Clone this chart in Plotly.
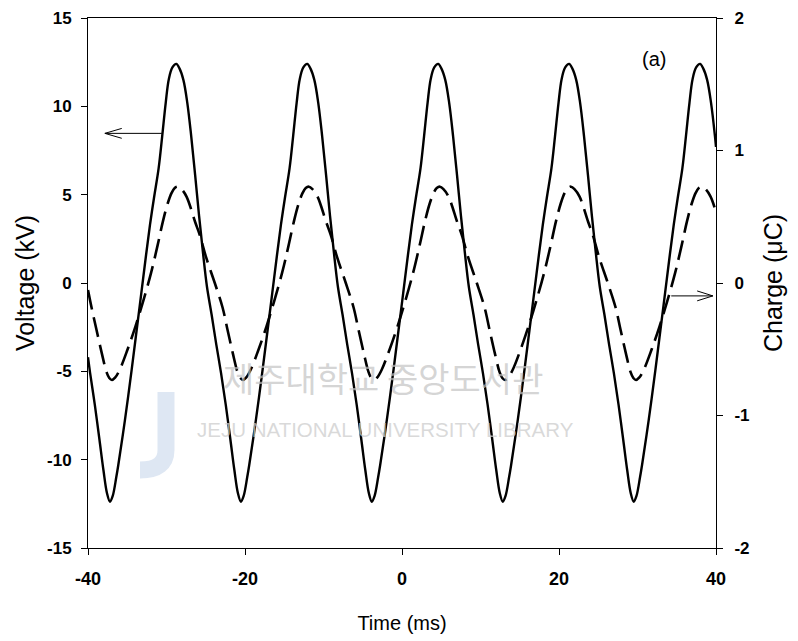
import plotly.graph_objects as go

# ---- Voltage (solid): time in ms, value in kV ----
volt_t = [
    -40.0, -39.73, -39.13, -38.53, -38.03, -37.58, -37.2,
    -36.85, -36.4, -36.14, -35.29, -34.44, -33.8, -33.2, -32.6, -32.1, -31.6, -31.0, -30.55, -30.1, -29.7, -29.25, -28.75,
    -28.35, -27.85, -27.35, -26.85, -26.35, -25.85, -25.35, -24.85, -24.25, -23.65, -23.05, -22.45, -21.85, -21.35, -20.9, -20.52,
    -20.17, -19.72, -19.46, -18.61, -17.76, -17.12, -16.52, -15.92, -15.42, -14.92, -14.32, -13.87, -13.42, -13.02, -12.57, -12.07,
    -11.67, -11.17, -10.67, -10.17, -9.67, -9.17, -8.67, -8.17, -7.57, -6.97, -6.37, -5.77, -5.17, -4.67, -4.22, -3.84,
    -3.49, -3.04, -2.78, -1.93, -1.08, -0.44, 0.16, 0.76, 1.26, 1.76, 2.36, 2.81, 3.26, 3.66, 4.11, 4.61,
    5.01, 5.51, 6.01, 6.51, 7.01, 7.51, 8.01, 8.51, 9.11, 9.71, 10.31, 10.91, 11.51, 12.01, 12.46, 12.84,
    13.19, 13.64, 13.9, 14.75, 15.6, 16.24, 16.84, 17.44, 17.94, 18.44, 19.04, 19.49, 19.94, 20.34, 20.79, 21.29,
    21.69, 22.19, 22.69, 23.19, 23.69, 24.19, 24.69, 25.19, 25.79, 26.39, 26.99, 27.59, 28.19, 28.69, 29.14, 29.52,
    29.87, 30.32, 30.58, 31.43, 32.28, 32.92, 33.52, 34.12, 34.62, 35.12, 35.72, 36.17, 36.62, 37.02, 37.47, 37.97,
    38.37, 38.87, 39.37, 39.87, 40.0,
]
volt_kv = [
    -4.2, -5.1, -6.9, -8.9, -10.6, -11.9, -12.38,
    -12.05, -11.0, -10.3, -7.75, -4.92, -2.66, -0.55, 1.6, 3.3, 4.8, 6.5, 8.3, 10.2, 11.55, 12.2, 12.40,
    12.15, 11.5, 10.2, 8.3, 6.1, 3.8, 1.7, -0.2, -1.8, -3.5, -5.1, -6.9, -8.9, -10.6, -11.9, -12.38,
    -12.05, -11.0, -10.3, -7.75, -4.92, -2.66, -0.55, 1.6, 3.3, 4.8, 6.5, 8.3, 10.2, 11.55, 12.2, 12.40,
    12.15, 11.5, 10.2, 8.3, 6.1, 3.8, 1.7, -0.2, -1.8, -3.5, -5.1, -6.9, -8.9, -10.6, -11.9, -12.38,
    -12.05, -11.0, -10.3, -7.75, -4.92, -2.66, -0.55, 1.6, 3.3, 4.8, 6.5, 8.3, 10.2, 11.55, 12.2, 12.40,
    12.15, 11.5, 10.2, 8.3, 6.1, 3.8, 1.7, -0.2, -1.8, -3.5, -5.1, -6.9, -8.9, -10.6, -11.9, -12.38,
    -12.05, -11.0, -10.3, -7.75, -4.92, -2.66, -0.55, 1.6, 3.3, 4.8, 6.5, 8.3, 10.2, 11.55, 12.2, 12.40,
    12.15, 11.5, 10.2, 8.3, 6.1, 3.8, 1.7, -0.2, -1.8, -3.5, -5.1, -6.9, -8.9, -10.6, -11.9, -12.38,
    -12.05, -11.0, -10.3, -7.75, -4.92, -2.66, -0.55, 1.6, 3.3, 4.8, 6.5, 8.3, 10.2, 11.55, 12.2, 12.40,
    12.15, 11.5, 10.2, 8.3, 7.7,
]

# ---- Charge (dashed): time in ms, value in uC ----
charge_t = [
    -40.0, -39.54, -38.94, -38.24, -37.64, -37.29, -36.95,
    -36.55, -35.95, -34.95, -33.95, -32.95, -31.95, -31.15, -30.45, -29.85, -29.35, -28.95, -28.55,
    -28.1, -27.45, -26.35, -25.75, -24.95, -23.85, -22.85, -22.25, -21.55, -20.95, -20.6, -20.26,
    -19.86, -19.26, -18.26, -17.26, -16.26, -15.26, -14.46, -13.76, -13.16, -12.66, -12.26, -11.86,
    -11.41, -10.76, -9.66, -9.06, -8.26, -7.16, -6.16, -5.56, -4.86, -4.26, -3.91, -3.57,
    -3.17, -2.57, -1.57, -0.57, 0.43, 1.43, 2.23, 2.93, 3.53, 4.03, 4.43, 4.83,
    5.28, 5.93, 7.03, 7.63, 8.43, 9.53, 10.53, 11.13, 11.83, 12.43, 12.78, 13.12,
    13.52, 14.12, 15.12, 16.12, 17.12, 18.12, 18.92, 19.62, 20.22, 20.72, 21.12, 21.52,
    21.97, 22.62, 23.72, 24.32, 25.12, 26.22, 27.22, 27.82, 28.52, 29.12, 29.47, 29.81,
    30.21, 30.81, 31.81, 32.81, 33.81, 34.81, 35.61, 36.31, 36.91, 37.41, 37.81, 38.21,
    38.66, 39.31, 40.0,
]
charge_uc = [
    -0.053, -0.187, -0.347, -0.531, -0.673, -0.717, -0.732,
    -0.715, -0.653, -0.500, -0.327, -0.133, 0.080, 0.280, 0.467, 0.600, 0.680, 0.717, 0.727,
    0.709, 0.652, 0.460, 0.360, 0.193, 0.000, -0.187, -0.347, -0.531, -0.673, -0.717, -0.732,
    -0.715, -0.653, -0.500, -0.327, -0.133, 0.080, 0.280, 0.467, 0.600, 0.680, 0.717, 0.727,
    0.709, 0.652, 0.460, 0.360, 0.193, 0.000, -0.187, -0.347, -0.531, -0.673, -0.717, -0.732,
    -0.715, -0.653, -0.500, -0.327, -0.133, 0.080, 0.280, 0.467, 0.600, 0.680, 0.717, 0.727,
    0.709, 0.652, 0.460, 0.360, 0.193, 0.000, -0.187, -0.347, -0.531, -0.673, -0.717, -0.732,
    -0.715, -0.653, -0.500, -0.327, -0.133, 0.080, 0.280, 0.467, 0.600, 0.680, 0.717, 0.727,
    0.709, 0.652, 0.460, 0.360, 0.193, 0.000, -0.187, -0.347, -0.531, -0.673, -0.717, -0.732,
    -0.715, -0.653, -0.500, -0.327, -0.133, 0.080, 0.280, 0.467, 0.600, 0.680, 0.717, 0.727,
    0.709, 0.652, 0.535,
]

x_ticks = [-40, -20, 0, 20, 40]
x_ticktext = ["-40", "-20", "0", "20", "40"]
volt_ticks = [-15, -10, -5, 0, 5, 10, 15]
volt_ticktext = ["-15", "-10", "-5", "0", "5", "10", "15"]
charge_ticks = [-2, -1, 0, 1, 2]
charge_ticktext = ["-2", "-1", "0", "1", "2"]

FONT = "Arial, 'Liberation Sans', Helvetica, sans-serif"

fig = go.Figure()
fig.add_trace(go.Scatter(
    x=volt_t, y=volt_kv, mode="lines", name="Voltage",
    line=dict(color="black", width=2.4, shape="spline", smoothing=1.0),
    yaxis="y", showlegend=False))
fig.add_trace(go.Scatter(
    x=charge_t, y=charge_uc, mode="lines", name="Charge",
    line=dict(color="black", width=2.6, dash="20px,8px", shape="spline", smoothing=1.0),
    yaxis="y2", showlegend=False))

axis_common = dict(showgrid=False, zeroline=False, showline=True, linecolor="black",
                   linewidth=1, ticks="outside", ticklen=6, tickwidth=1, tickcolor="black")

fig.update_layout(
    width=798, height=641,
    margin=dict(l=88, r=82, t=18, b=93, autoexpand=False),
    paper_bgcolor="white", plot_bgcolor="white",
    font=dict(family=FONT, color="black"),
    xaxis=dict(range=[-40, 40], tickvals=x_ticks, ticktext=x_ticktext, mirror=True,
               tickfont=dict(size=18, weight="bold"),
               ticklabelstandoff=8,
               title=dict(text="Time (ms)", font=dict(size=20), standoff=28),
               **axis_common),
    yaxis=dict(range=[-15, 15], tickvals=volt_ticks, ticktext=volt_ticktext, mirror=False,
               tickfont=dict(size=17, weight="bold"),
               ticklabelstandoff=6,
               title=dict(text="Voltage (kV)", font=dict(size=25), standoff=5),
               **axis_common),
    yaxis2=dict(range=[-2, 2], tickvals=charge_ticks, ticktext=charge_ticktext,
                overlaying="y", side="right",
                tickfont=dict(size=17, weight="bold"),
                ticklabelstandoff=8,
                title=dict(text="Charge (\u03bcC)", font=dict(size=25), standoff=15),
                **axis_common),
)

# panel label
fig.add_annotation(x=0.901, y=0.9226, xref="paper", yref="paper", text="(a)",
                   showarrow=False, font=dict(size=20), xanchor="center", yanchor="middle")

# watermark (library stamp) - drawn faint
fig.add_shape(type="path", xref="paper", yref="paper",
              path="M 0.1242 0.2943 L 0.1242 0.1849 Q 0.1242 0.1472 0.0828 0.1472",
              line=dict(color="rgba(160,185,220,0.35)", width=17), layer="below")
fig.add_annotation(x=0.47, y=0.2717, xref="paper", yref="paper",
                   text="제주대학교 중앙도서관", showarrow=False,
                   font=dict(size=34, color="rgba(195,195,195,0.7)",
                             family="'Noto Sans CJK KR', sans-serif"))
fig.add_annotation(x=0.474, y=0.198, xref="paper", yref="paper",
                   text="JEJU NATIONAL UNIVERSITY LIBRARY", showarrow=False,
                   font=dict(size=20.5, color="rgba(205,205,205,0.75)", family=FONT))

# arrows pointing each curve to its axis
arrow_style = dict(color="black", width=1)
fig.add_shape(type="line", x0=-30.6, y0=8.47, x1=-37.85, y1=8.47, xref="x", yref="y", line=arrow_style)
fig.add_shape(type="path", path="M -35.7 8.75 L -37.85 8.47 L -35.7 8.19", xref="x", yref="y", line=arrow_style)
fig.add_shape(type="line", x0=34.3, y0=-0.73, x1=39.6, y1=-0.73, xref="x", yref="y", line=arrow_style)
fig.add_shape(type="path", path="M 37.6 -0.45 L 39.6 -0.73 L 37.6 -1.01", xref="x", yref="y", line=arrow_style)

fig.write_html("out.html")
